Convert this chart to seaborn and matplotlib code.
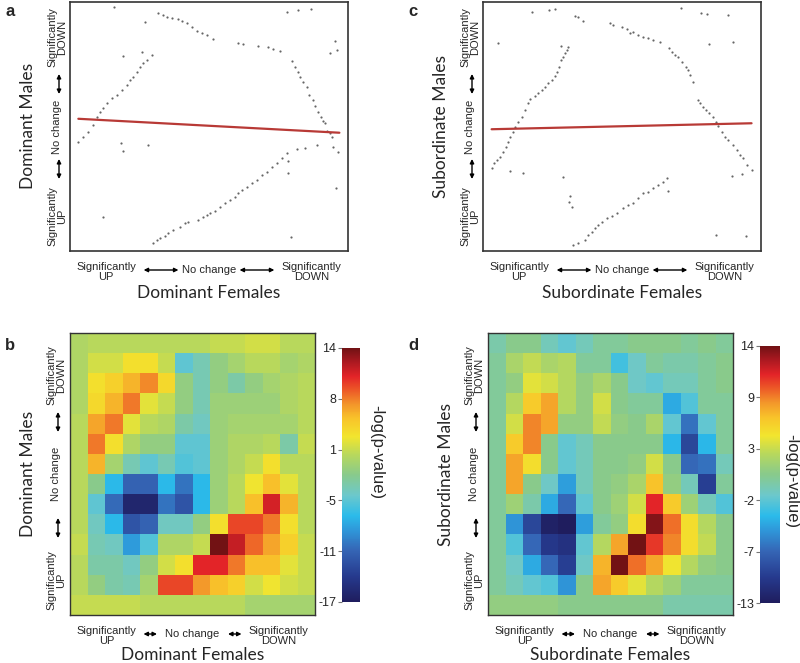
import numpy as np
import pandas as pd
import seaborn as sns
import matplotlib.pyplot as plt
from matplotlib.colors import LinearSegmentedColormap

# ---------------- data ----------------
# panel a: Dominant Females (x) vs Dominant Males (y), rank percentiles
a_x = [3.0, 4.8, 6.6, 8.4, 9.6, 10.8, 12.0, 13.2, 15.0, 16.8, 18.6, 20.4, 21.6, 22.8, 24.0, 25.2, 26.4, 27.6, 29.4,
       19.2, 25.8, 27.0, 15.8,
       31.8, 33.6, 34.8, 36.6, 39.0, 40.2, 42.0, 43.8, 45.6, 47.4, 49.2, 51.6, 60.6, 62.4, 67.7, 71.3, 73.1, 75.5,
       79.7, 80.9, 82.1, 82.7, 83.9, 85.1, 86.1, 87.3, 88.1, 89.3, 90.2, 91.1, 91.7, 92.6, 93.5, 94.1,
       77.9, 82.1, 86.6, 95.3, 93.5, 95.9, 94.7, 96.5, 95.6, 79.5, 78.5, 78.3,
       30.0, 31.2, 32.4, 34.2, 35.4, 37.2, 39.6, 41.4, 42.6, 46.2, 48.0, 49.2, 50.4, 52.2, 54.0, 55.8, 57.6, 59.4,
       60.6, 61.8, 63.5, 65.3, 67.1, 68.9, 70.7, 72.5, 74.3, 76.1, 77.9, 81.5, 84.5, 89.0,
       11.8, 18.3, 18.9, 27.9]
a_y = [43.9, 45.9, 47.9, 50.6, 53.9, 56.0, 57.3, 59.3, 61.3, 62.7, 64.7, 66.7, 68.7, 70.0, 72.0, 74.0, 75.4, 76.7, 78.7,
       78.3, 79.8, 91.8, 97.9,
       95.7, 94.8, 94.1, 93.4, 93.0, 92.5, 91.4, 90.1, 88.5, 87.4, 86.7, 85.0, 83.7, 83.1, 82.5, 81.8, 81.1, 80.3,
       76.3, 74.0, 72.0, 70.0, 68.0, 65.7, 62.7, 60.6, 58.2, 56.0, 53.9, 52.3, 51.3, 48.3, 47.3, 45.9,
       96.1, 96.8, 97.2, 84.3, 79.4, 80.7, 41.9, 39.9, 25.4, 5.8, 36.1, 31.2,
       3.1, 4.4, 5.1, 6.0, 7.1, 8.4, 9.8, 11.1, 11.8, 12.4, 13.8, 14.5, 15.1, 16.2, 17.8, 19.1, 20.5, 21.8,
       23.4, 24.5, 25.8, 27.2, 28.5, 30.5, 31.9, 33.9, 35.2, 37.2, 39.2, 40.8, 41.5, 42.6,
       13.8, 43.5, 40.3, 42.4]
a_fit_x = [3.0, 96.9]
a_fit_y = [53.1, 47.5]

# panel c: Subordinate Females (x) vs Subordinate Males (y)
c_x = [3.1, 4.0, 4.9, 6.1, 7.3, 8.3, 9.1, 9.7, 10.7, 11.5, 12.7, 13.9, 15.1, 16.3, 16.9, 18.7, 19.9, 21.1, 22.3,
       23.5, 24.7, 25.9, 26.7, 27.5, 27.9, 28.7, 29.5, 30.1, 30.7, 27.9,
       5.5, 9.7, 14.5, 28.9, 31.3, 31.1, 31.9, 17.5, 23.9, 25.9, 71.1, 78.3, 80.5, 88.0, 81.4, 90.0, 89.4, 93.3,
       83.8, 94.6, 66.7,
       33.1, 34.3, 36.1, 45.7, 46.9, 49.9, 51.7, 52.9, 54.1, 55.9, 57.7, 59.5, 61.3, 63.7, 67.0, 67.9, 69.1, 70.3,
       71.5, 73.0, 73.9, 74.5, 75.7,
       77.2, 78.1, 79.3, 80.2, 81.4, 82.6, 83.8, 84.7, 85.9, 87.1, 88.2, 90.0, 91.2, 92.4, 93.6, 94.8, 96.6,
       32.5, 34.3, 36.7, 37.9, 39.1, 40.3, 41.5, 42.7, 44.5, 46.3, 48.1, 50.5, 52.3, 54.1, 55.9, 57.7, 59.5, 61.3,
       63.1, 64.9, 66.1]
c_y = [33.2, 35.2, 36.5, 37.9, 39.9, 41.9, 43.9, 45.9, 47.9, 49.9, 51.9, 53.9, 56.6, 59.3, 60.9, 62.2, 63.3, 64.7, 66.0,
       67.3, 68.7, 70.3, 72.0, 74.0, 76.7, 78.0, 79.4, 80.7, 82.1, 82.3,
       83.4, 32.3, 31.5, 29.9, 22.1, 19.8, 17.8, 96.1, 96.8, 97.2, 97.7, 95.7, 95.2, 94.8, 83.0, 83.8, 30.3, 30.8,
       6.4, 6.0, 24.1,
       94.4, 93.8, 92.5, 91.4, 90.8, 90.1, 89.0, 87.7, 88.1, 86.7, 86.1, 85.4, 84.7, 84.1, 81.4, 80.1, 78.7, 77.8,
       76.0, 74.0, 72.7, 70.7, 68.0,
       60.6, 59.3, 58.0, 56.6, 55.3, 53.7, 51.9, 50.2, 47.9, 45.9, 44.6, 42.6, 40.6, 38.6, 37.2, 34.5, 32.5,
       2.4, 3.1, 4.4, 6.4, 7.8, 9.1, 10.4, 11.8, 13.1, 14.1, 15.1, 17.1, 18.5, 19.1, 21.2, 23.2, 23.8, 25.2,
       26.5, 27.8, 29.2]
c_fit_x = [3.1, 96.6]
c_fit_y = [48.9, 51.3]

# panel b: -log(p) overlap map, dominant
b_vals = [
    [0.5, 1, 1, 1, 1, 1, 1, 1, 1.5, 1.5, 2, 2, 1, 1],
    [0.5, 2, 2, 3.5, 3.5, 1.5, -4.5, -3, -1, 0, 1, 1, 0, 0.5],
    [0.5, 3.5, 4.5, 6, 7.5, 4, -1, -3, -1, -2.5, -1, 0, 0.5, 1],
    [0.5, 4, 6, 8, 2.5, 1.5, -1, -3, -0.5, -0.5, -0.5, -0.5, 0.5, 1],
    [1, 6.5, 8, 2.5, 1, 0.5, -2.5, -3.5, -0.5, 0, 0, 0, 0, 1],
    [1, 8, 3.5, 0.5, -1, -1, -4.5, -4.5, -0.5, 0.5, 0.5, 1, -2.5, 1.5],
    [1, 6, 0, -3, -4.5, -3, -5, -4.5, -0.5, 0.5, 1.5, 3.5, 1, 1],
    [1, -1.5, -6.5, -11, -11, -6.5, -10, -6.5, -0.5, 1, 3, 5.5, 2.5, 1],
    [1, -4.5, -10.5, -16, -16, -10, -12, -6.5, -0.5, 1, 5.5, 11, 6, 1],
    [1, -3.5, -6.5, -12, -11, -3.5, -3.5, -1, 3.5, 9.5, 9.5, 8, 3.5, 1],
    [1.5, -3, -3.5, -8, -5, 0.5, 0.5, 1.5, 14, 11.5, 8.5, 6.5, 4.5, 1.5],
    [1, -2.5, -2.5, -3.5, -1, 2, 3.5, 10.5, 10.5, 8, 5.5, 5.5, 2.5, 1.5],
    [1, -1, -2.5, -3, 0, 9.5, 9.5, 7, 5.5, 4.5, 2, 3, 2, 1.5],
    [1.5, 1.5, 1.5, 1.5, 1, 1, 1, 1, 1, 1, 0, 0, 0, 0],
]
b_ticklabels = ['-17', '-11', '-5', '1', '8', '14']

# panel d: -log(p) overlap map, subordinate
d_vals = [
    [-0.5, 0.5, 0.5, -1, -2, -1, 0, 0, 0.5, 0.5, 0.5, 0, 0.5, 0],
    [0, 2, 3, 2, 2.5, 0, 0, -3, -1.5, 0, -0.5, -0.5, 0, 0.5],
    [0, 1, 4, 3.5, 2.5, 1, 2, 0.5, -1.5, -2, -1, -1, 0, 0.5],
    [0, 2.5, 6, 7.5, 2.5, 1, 3.5, 0.5, 0, 0, -4.5, -2.5, 0, 0],
    [0, 3.5, 8.5, 7.5, 1, 1, 3, 1, 0.5, 2, -2, -7, -2, 0],
    [0, 6, 8.5, 0.5, -2, -1, 0.5, 0.5, 0.5, 0.5, -4, -9.5, -4, 0],
    [0, 7.5, 5, 0.5, -2, -1, 0.5, 0.5, 1, 3.5, 0.5, -7.5, -7, -1],
    [0, 7.5, 0.5, -1.5, -5, -1, 0.5, 1, 2, 6.5, 1, -1, -10, 0],
    [0, 1.5, -0.5, -4.5, -7.5, -2, 0.5, 1.5, 3.5, 11, 6, 1.5, -1, -2.5],
    [0, -5.5, -9.5, -12.5, -13, -5, 0, 1, 5, 13.5, 9, 5, 2.5, 0.5],
    [0, -2.5, -7.5, -10.5, -11, -2, 2.5, 7.5, 14, 10.5, 8.5, 5, 3, 0.5],
    [0, -1.5, -4.5, -7.5, -10, -1.5, 7, 14, 9, 7.5, 4.5, 2.5, 1, 0.5],
    [0, -1, -2, -2.5, -5.5, 0.5, 7.5, 6, 4, 2.5, 1.5, 0, 0, 0],
    [1, 1, 1, 1, 0.5, 0.5, 0.5, 0.5, 0.5, 0.5, -0.5, -0.5, -0.5, -0.5],
]
d_ticklabels = ['-13', '-7', '-2', '3', '9', '14']

# ---------------- style ----------------
sns.set_theme(style="white")
plt.rcParams['font.family'] = ['Liberation Sans', 'DejaVu Sans']

cmap = LinearSegmentedColormap.from_list('rrho', [
    (0.00, '#1f1d5e'), (0.10, '#263a8e'), (0.20, '#3565b5'), (0.28, '#2f95d8'),
    (0.34, '#2bbbea'), (0.42, '#6cc8cc'), (0.50, '#88ca8c'), (0.58, '#b8d85c'),
    (0.65, '#f2e52e'), (0.72, '#f8c42a'), (0.78, '#f3962a'), (0.84, '#ec5527'),
    (0.89, '#e32428'), (0.95, '#a81820'), (1.00, '#721214')])

W, H = 800, 663
fig = plt.figure(figsize=(W / 100, H / 100), dpi=100)


def box(l, t, r, b):
    return [l / W, 1 - b / H, (r - l) / W, (b - t) / H]


def T(px, py, s, **kw):
    kw.setdefault('ha', 'center')
    kw.setdefault('va', 'center')
    fig.text(px / W, 1 - py / H, s, **kw)


def A(x0, y0, x1, y1, ax):
    ax.annotate('', xy=(x1, H - y1), xytext=(x0, H - y0), xycoords='figure pixels',
                textcoords='figure pixels', annotation_clip=False,
                arrowprops=dict(arrowstyle='<|-|>', color='black', lw=1.0,
                                shrinkA=0, shrinkB=0, mutation_scale=6))


def frame(ax, lw=1.2):
    for sp in ax.spines.values():
        sp.set_visible(True)
        sp.set_color('#333333')
        sp.set_linewidth(lw)
    ax.set_xticks([])
    ax.set_yticks([])
    ax.set_xlabel('')
    ax.set_ylabel('')


small = dict(fontsize=8, linespacing=1.0)
big = dict(fontsize=12.5, family=['Lato', 'DejaVu Sans'])

# ---------------- scatter panels ----------------
for (l, r), xs, ys, fx_, fy_ in [((70, 348), a_x, a_y, a_fit_x, a_fit_y),
                                ((483, 761), c_x, c_y, c_fit_x, c_fit_y)]:
    ax = fig.add_axes(box(l, 2, r, 251))
    sns.scatterplot(x=xs, y=ys, ax=ax, s=2.5, color='#666666', linewidth=0)
    sns.lineplot(x=fx_, y=fy_, ax=ax, color='#b83a36', lw=1.6)
    ax.set_xlim(0, 100)
    ax.set_ylim(0, 100)
    frame(ax)
    # left labels
    xs_small = l - 13
    T(l - 42, 126, 'Dominant Males' if l < 400 else 'Subordinate Males', rotation=90, **big)
    T(xs_small, 37, 'Significantly\nDOWN', rotation=90, **small)
    T(xs_small, 127, 'No change', rotation=90, **small)
    T(xs_small, 216, 'Significantly\nUP', rotation=90, **small)
    A(xs_small + 2, 74, xs_small + 2, 94, ax)
    A(xs_small + 2, 159, xs_small + 2, 179, ax)
    # bottom labels
    w = r - l
    T(l + 0.13 * w, 272, 'Significantly\nUP', **small)
    T(l + 0.5 * w, 270, 'No change', **small)
    T(l + 0.87 * w, 272, 'Significantly\nDOWN', **small)
    A(l + 0.265 * w, 270, l + 0.39 * w, 270, ax)
    A(l + 0.61 * w, 270, l + 0.735 * w, 270, ax)
    T(l + 0.5 * w, 293, 'Dominant Females' if l < 400 else 'Subordinate Females', **big)

# ---------------- heatmap panels ----------------
for (l, r), vals, vmin, vmax, labels, (cl, cr, ct, cb), labx, laby, who in [
        ((70, 315), b_vals, -17, 14, b_ticklabels, (342, 360, 348, 602), 377, 452, 'Dominant'),
        ((488, 733), d_vals, -13, 14, d_ticklabels, (760, 780, 346, 603), 792, 481, 'Subordinate')]:
    ax = fig.add_axes(box(l, 333, r, 615))
    cax = fig.add_axes(box(cl, ct, cr, cb))
    sns.heatmap(np.array(vals), ax=ax, cmap=cmap, vmin=vmin, vmax=vmax, cbar_ax=cax,
                xticklabels=False, yticklabels=False)
    frame(ax, lw=1.0)
    cbar = ax.collections[0].colorbar
    cbar.set_ticks(np.linspace(vmin, vmax, 6))
    cbar.set_ticklabels(labels)
    cbar.outline.set_visible(False)
    cax.yaxis.set_ticks_position('left')
    cax.tick_params(axis='y', length=3, width=0.8, color='#777777', labelsize=9, pad=1)
    T(labx, laby, '-log(p-value)', rotation=270, fontsize=12)
    # left labels
    xs_small = l - 14
    T(l - 42, 474, who + ' Males', rotation=90, **big)
    T(xs_small, 375, 'Significantly\nDOWN', rotation=90, **small)
    T(xs_small, 474, 'No change', rotation=90, **small)
    T(xs_small, 580, 'Significantly\nUP', rotation=90, **small)
    A(xs_small + 2, 412, xs_small + 2, 432, ax)
    A(xs_small + 2, 518, xs_small + 2, 538, ax)
    # bottom labels
    w = r - l
    T(l + 0.15 * w, 636, 'Significantly\nUP', **small)
    T(l + 0.5 * w, 634, 'No change', **small)
    T(l + 0.85 * w, 636, 'Significantly\nDOWN', **small)
    A(l + 0.3 * w, 634, l + 0.355 * w, 634, ax)
    A(l + 0.645 * w, 634, l + 0.7 * w, 634, ax)
    T(l + 0.5 * w, 655, who + ' Females', **big)

# panel letters
for s, px, py in [('a', 10, 12), ('b', 10, 345), ('c', 413, 12), ('d', 413, 345)]:
    T(px, py, s, fontsize=12, fontweight='bold')

fig.savefig('out.png', dpi=100)
